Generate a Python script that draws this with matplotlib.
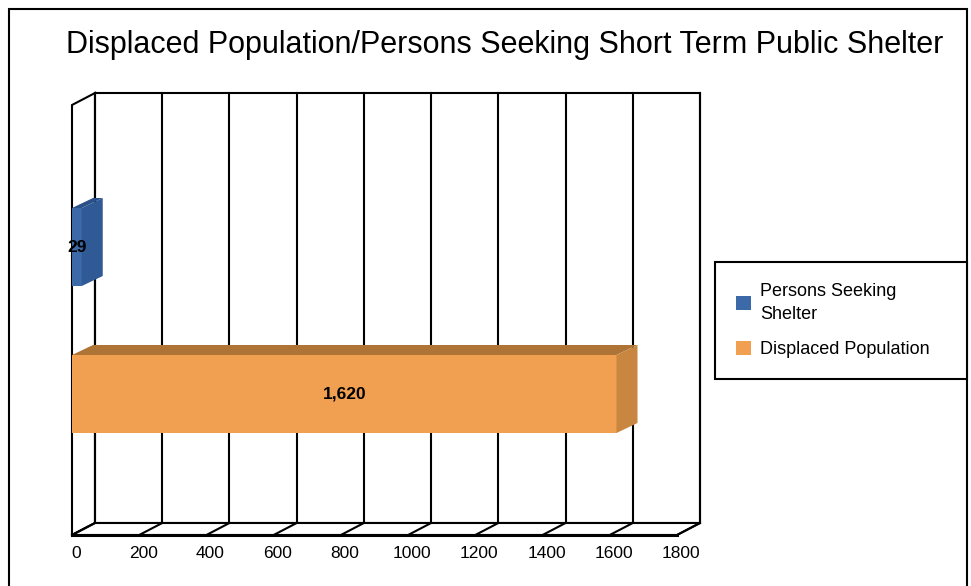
import matplotlib
matplotlib.use("Agg")
import matplotlib.pyplot as plt
from matplotlib.patches import Polygon, Rectangle, Patch

plt.rcParams['font.family'] = ['Liberation Sans', 'DejaVu Sans']

# ---- data ----
title = "Displaced Population/Persons Seeking Short Term Public Shelter"
categories = ["Displaced Population", "Persons Seeking Shelter"]
values = [1620, 29]
value_labels = ["1,620", "29"]
legend_labels = ["Persons Seeking\nShelter", "Displaced Population"]
ticks = [0, 200, 400, 600, 800, 1000, 1200, 1400, 1600, 1800]

# ---- styles ----
front_colors = ["#F0A050", "#3C69A8"]
top_colors = ["#AE7436", "#2B5189"]
side_colors = ["#C98640", "#2F5A96"]

W, H = 971, 586
fig = plt.figure(figsize=(W / 100, H / 100), dpi=100)
ax = fig.add_axes([0, 0, 1, 1])
ax.axis('off')

x0_px, x1_px = 72, 677          # front plane extent in pixels
xmax = ticks[-1]
s = (x1_px - x0_px) / xmax       # px per value unit
ax.set_xlim(-x0_px / s, (W - x0_px) / s)
cat_px, c0_py = 147, 394         # px per category, px row of first category
ax.set_ylim((c0_py - H) / cat_px, c0_py / cat_px)

DX, DY = 23 / s, 12 / cat_px     # wall depth
BDX, BDY = 21 / s, 10 / cat_px   # bar depth
yf = (c0_py - 535) / cat_px      # floor front
yt = (c0_py - 105) / cat_px      # wall top front
lw = 1.5

# left wall
ax.add_patch(Polygon([(0, yf), (0, yt), (DX, yt + DY), (DX, yf + DY)],
                     closed=True, facecolor='white', edgecolor='black', lw=lw, zorder=1))
# back wall
ax.add_patch(Rectangle((DX, yf + DY), xmax, yt - yf, facecolor='white',
                       edgecolor='black', lw=lw, zorder=1))
for t in ticks:
    ax.plot([t + DX, t + DX], [yf + DY, yt + DY], color='black', lw=lw, zorder=1.5)
# floor
ax.add_patch(Polygon([(0, yf), (xmax, yf), (xmax + DX, yf + DY), (DX, yf + DY)],
                     closed=True, facecolor='white', edgecolor='black', lw=lw, zorder=1.6))
for t in ticks:
    ax.plot([t, t + DX], [yf, yf + DY], color='black', lw=lw, zorder=1.7)
ax.plot([0, xmax], [yf, yf], color='black', lw=2.2, zorder=1.8)

# tick labels
for t in ticks:
    ax.text(t + 4 / s, yf - 18 / cat_px, str(t), ha='center', va='center',
            fontsize=12.5, color='black')

# bars
bh = 78 / cat_px
for i, v in enumerate(values):
    ax.barh(i, v, height=bh, left=0, color=front_colors[i], zorder=3)
    top = i + bh / 2
    bot = i - bh / 2
    ax.add_patch(Polygon([(0, top), (v, top), (v + BDX, top + BDY), (BDX, top + BDY)],
                         closed=True, facecolor=top_colors[i], edgecolor='none', zorder=3))
    ax.add_patch(Polygon([(v, bot), (v, top), (v + BDX, top + BDY), (v + BDX, bot + BDY)],
                         closed=True, facecolor=side_colors[i], edgecolor='none', zorder=3))
    ax.text(v / 2, i, value_labels[i], ha='center', va='center', fontsize=12.5,
            fontweight='bold', color='black', zorder=5)

# title
fig.text(505 / W, 1 - 45 / H, title, ha='center', va='center', fontsize=22.0, color='black')

# legend
handles = [Patch(facecolor=front_colors[1]), Patch(facecolor=front_colors[0])]
leg = fig.legend(handles, legend_labels, loc='upper left',
                 bbox_to_anchor=(715 / W, 1 - 262 / H, (967 - 715) / W, 0.0001),
                 mode='expand', borderaxespad=0, fontsize=13, frameon=True,
                 fancybox=False, edgecolor='black', framealpha=1,
                 borderpad=1.15, labelspacing=1.0, handlelength=0.85,
                 handleheight=0.85, handletextpad=0.5)
leg.get_frame().set_linewidth(1.5)
for txt in leg.get_texts():
    txt.set_linespacing(1.45)

# outer frame
fig.add_artist(Rectangle((9 / W, -0.05), (967 - 9) / W, 1.05 - 9 / H,
                         transform=fig.transFigure, fill=False,
                         edgecolor='black', lw=1.5))

fig.savefig("out.png", dpi=100)
